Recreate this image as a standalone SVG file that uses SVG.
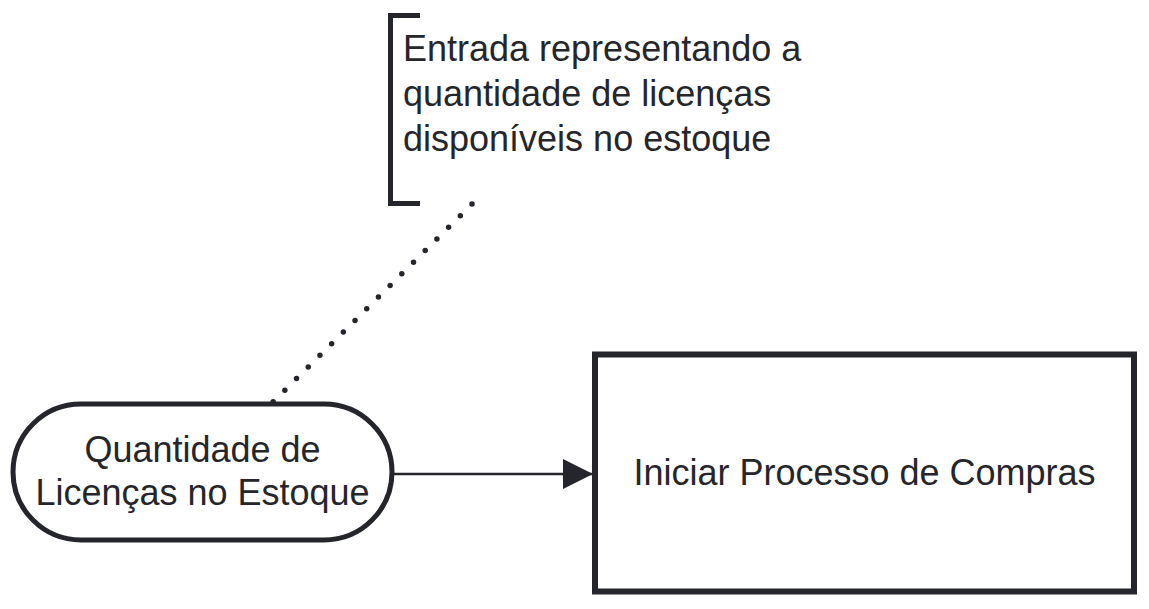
<svg xmlns="http://www.w3.org/2000/svg" width="1149" height="609" viewBox="0 0 1149 609">
<style>
.t{font-family:"Liberation Sans",Arial,sans-serif;font-size:36px;fill:#25262b}
.s{fill:#fff;stroke:#25262b;stroke-width:5}
</style>
<defs>
<marker id="ah" viewBox="0 0 10 10" refX="10" refY="5" markerWidth="30" markerHeight="30" markerUnits="userSpaceOnUse" orient="auto">
<path d="M0,0 L10,5 L0,10 Z" fill="#25262b"/>
</marker>
</defs>
<rect width="1149" height="609" fill="#fff"/>
<g id="connectors">
<line x1="472" y1="204" x2="273" y2="402" stroke="#25262b" stroke-width="5.5" stroke-linecap="round" stroke-dasharray="0 16.5"/>
<line x1="393" y1="474" x2="593" y2="474" stroke="#25262b" stroke-width="2.5" marker-end="url(#ah)"/>
</g>
<g id="annotation">
<path d="M420,15.5 H390.5 V203.5 H420" fill="none" stroke="#25262b" stroke-width="5"/>
<text class="t" x="403" y="61">Entrada representando a</text>
<text class="t" x="403" y="106">quantidade de licenças</text>
<text class="t" x="403" y="151">disponíveis no estoque</text>
</g>
<g id="node-quantidade">
<rect class="s" x="13" y="404" width="379" height="136" rx="68" ry="68"/>
<text class="t" x="202.5" y="462" text-anchor="middle">Quantidade de</text>
<text class="t" x="202.5" y="505" text-anchor="middle">Licenças no Estoque</text>
</g>
<g id="node-iniciar">
<rect x="595" y="354.5" width="539" height="237" fill="#fff" stroke="#25262b" stroke-width="6"/>
<text class="t" x="864.5" y="485" text-anchor="middle">Iniciar Processo de Compras</text>
</g>
</svg>
